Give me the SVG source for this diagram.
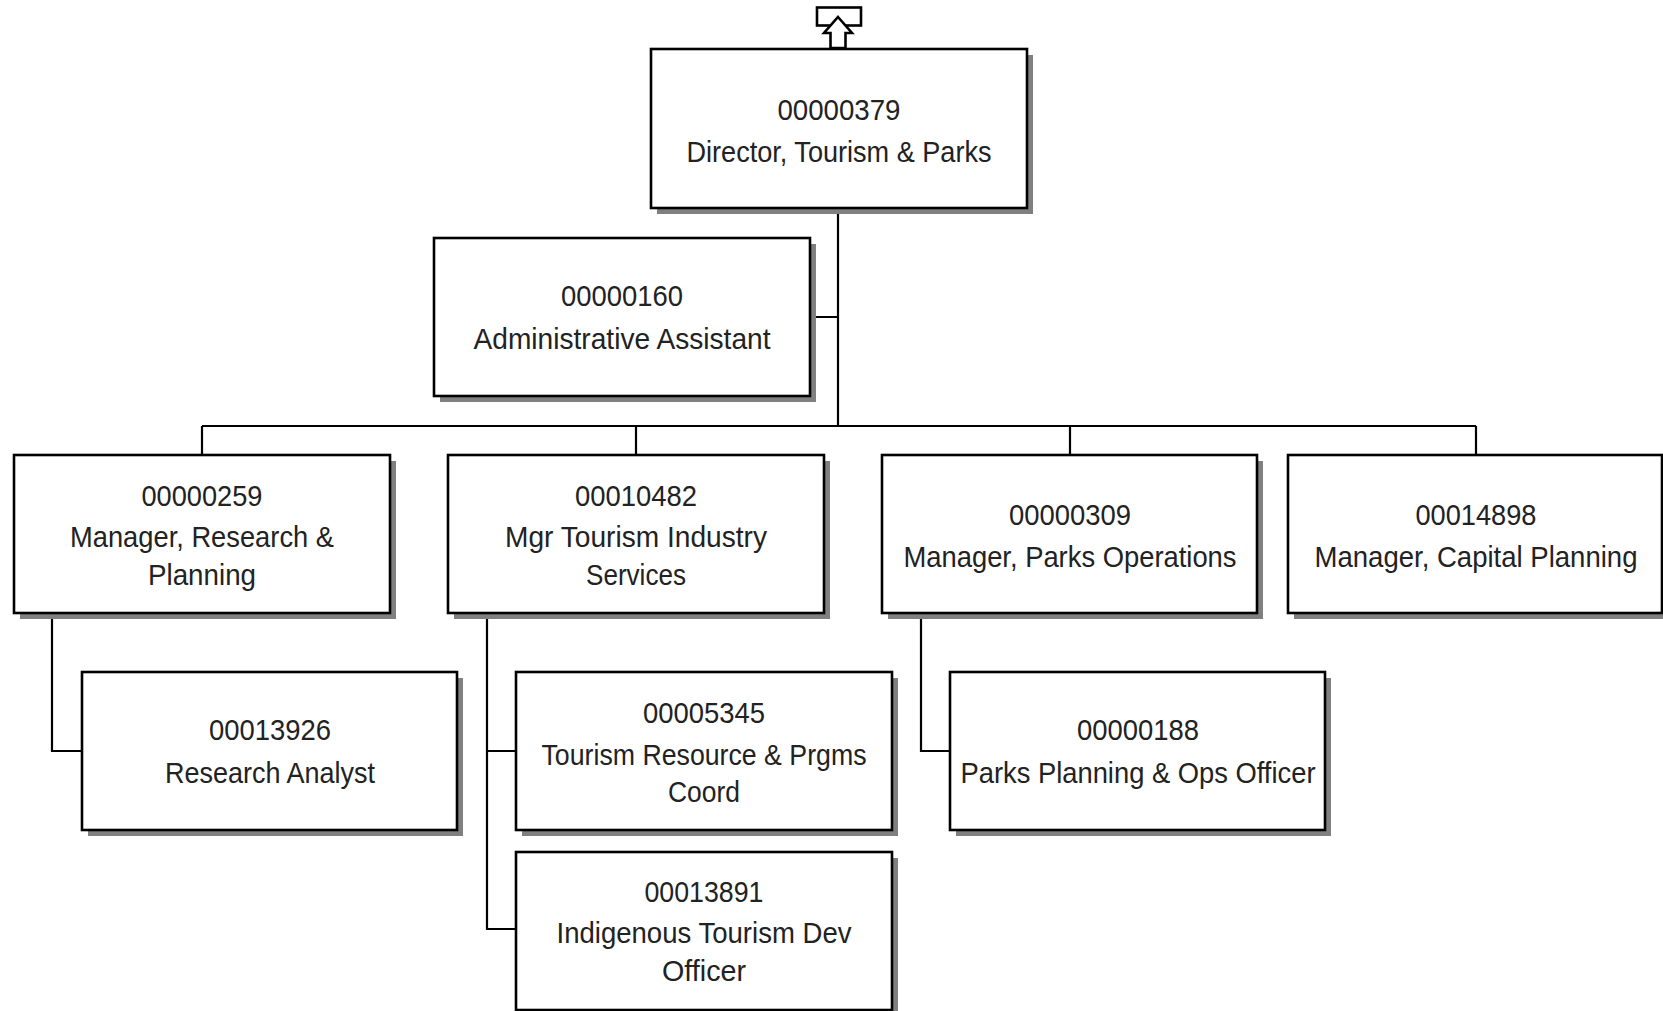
<svg xmlns="http://www.w3.org/2000/svg" width="1663" height="1011" viewBox="0 0 1663 1011">
<style>
.sh{fill:#808080;stroke:none}
.bx{fill:#ffffff;stroke:#000000;stroke-width:2.6}
.ln{fill:none;stroke:#000000;stroke-width:2.2}
text{font-family:"Liberation Sans",Arial,sans-serif;font-size:29.5px;fill:#222222;text-anchor:middle;lengthAdjust:spacingAndGlyphs}
</style>
<rect width="1663" height="1011" fill="#ffffff"/>
<g id="connectors">
<path class="ln" d="M838,208 V426 M810,317 H838 M202,426 H1476 M202,426 V455 M636,426 V455 M1070,426 V455 M1476,426 V455"/>
<path class="ln" d="M52,613 V751 H82"/>
<path class="ln" d="M487,613 V929 H516 M487,751 H516"/>
<path class="ln" d="M921,613 V751 H950"/>
</g>
<g id="up-arrow">
<rect class="bx" x="817" y="7.5" width="44" height="18"/>
<polygon class="bx" points="838,17 852,33 845.5,33 845.5,48 830.5,48 830.5,33 824,33"/>
</g>
<g id="n00000379">
<rect class="sh" x="657" y="55" width="376" height="159"/>
<rect class="bx" x="651" y="49" width="376" height="159"/>
<text x="839" y="120" textLength="123" lengthAdjust="spacingAndGlyphs">00000379</text>
<text x="839" y="162" textLength="305" lengthAdjust="spacingAndGlyphs">Director, Tourism &amp; Parks</text>
</g>
<g id="n00000160">
<rect class="sh" x="440" y="244" width="376" height="158"/>
<rect class="bx" x="434" y="238" width="376" height="158"/>
<text x="622" y="306" textLength="122" lengthAdjust="spacingAndGlyphs">00000160</text>
<text x="622" y="349" textLength="297" lengthAdjust="spacingAndGlyphs">Administrative Assistant</text>
</g>
<g id="n00000259">
<rect class="sh" x="20" y="461" width="376" height="158"/>
<rect class="bx" x="14" y="455" width="376" height="158"/>
<text x="202" y="506" textLength="121" lengthAdjust="spacingAndGlyphs">00000259</text>
<text x="202" y="547" textLength="264" lengthAdjust="spacingAndGlyphs">Manager, Research &amp;</text>
<text x="202" y="585" textLength="108" lengthAdjust="spacingAndGlyphs">Planning</text>
</g>
<g id="n00010482">
<rect class="sh" x="454" y="461" width="376" height="158"/>
<rect class="bx" x="448" y="455" width="376" height="158"/>
<text x="636" y="506" textLength="122" lengthAdjust="spacingAndGlyphs">00010482</text>
<text x="636" y="547" textLength="262" lengthAdjust="spacingAndGlyphs">Mgr Tourism Industry</text>
<text x="636" y="585" textLength="100" lengthAdjust="spacingAndGlyphs">Services</text>
</g>
<g id="n00000309">
<rect class="sh" x="888" y="461" width="375" height="158"/>
<rect class="bx" x="882" y="455" width="375" height="158"/>
<text x="1070" y="525" textLength="122" lengthAdjust="spacingAndGlyphs">00000309</text>
<text x="1070" y="567" textLength="333" lengthAdjust="spacingAndGlyphs">Manager, Parks Operations</text>
</g>
<g id="n00014898">
<rect class="sh" x="1294" y="461" width="374" height="158"/>
<rect class="bx" x="1288" y="455" width="374" height="158"/>
<text x="1476" y="525" textLength="121" lengthAdjust="spacingAndGlyphs">00014898</text>
<text x="1476" y="567" textLength="323" lengthAdjust="spacingAndGlyphs">Manager, Capital Planning</text>
</g>
<g id="n00013926">
<rect class="sh" x="88" y="678" width="375" height="158"/>
<rect class="bx" x="82" y="672" width="375" height="158"/>
<text x="270" y="740" textLength="122" lengthAdjust="spacingAndGlyphs">00013926</text>
<text x="270" y="783" textLength="210" lengthAdjust="spacingAndGlyphs">Research Analyst</text>
</g>
<g id="n00005345">
<rect class="sh" x="522" y="678" width="376" height="158"/>
<rect class="bx" x="516" y="672" width="376" height="158"/>
<text x="704" y="723" textLength="122" lengthAdjust="spacingAndGlyphs">00005345</text>
<text x="704" y="765" textLength="325" lengthAdjust="spacingAndGlyphs">Tourism Resource &amp; Prgms</text>
<text x="704" y="802" textLength="72" lengthAdjust="spacingAndGlyphs">Coord</text>
</g>
<g id="n00013891">
<rect class="sh" x="522" y="858" width="376" height="158"/>
<rect class="bx" x="516" y="852" width="376" height="158"/>
<text x="704" y="902" textLength="119" lengthAdjust="spacingAndGlyphs">00013891</text>
<text x="704" y="943" textLength="295" lengthAdjust="spacingAndGlyphs">Indigenous Tourism Dev</text>
<text x="704" y="981" textLength="84" lengthAdjust="spacingAndGlyphs">Officer</text>
</g>
<g id="n00000188">
<rect class="sh" x="956" y="678" width="375" height="158"/>
<rect class="bx" x="950" y="672" width="375" height="158"/>
<text x="1138" y="740" textLength="122" lengthAdjust="spacingAndGlyphs">00000188</text>
<text x="1138" y="783" textLength="355" lengthAdjust="spacingAndGlyphs">Parks Planning &amp; Ops Officer</text>
</g>
</svg>
